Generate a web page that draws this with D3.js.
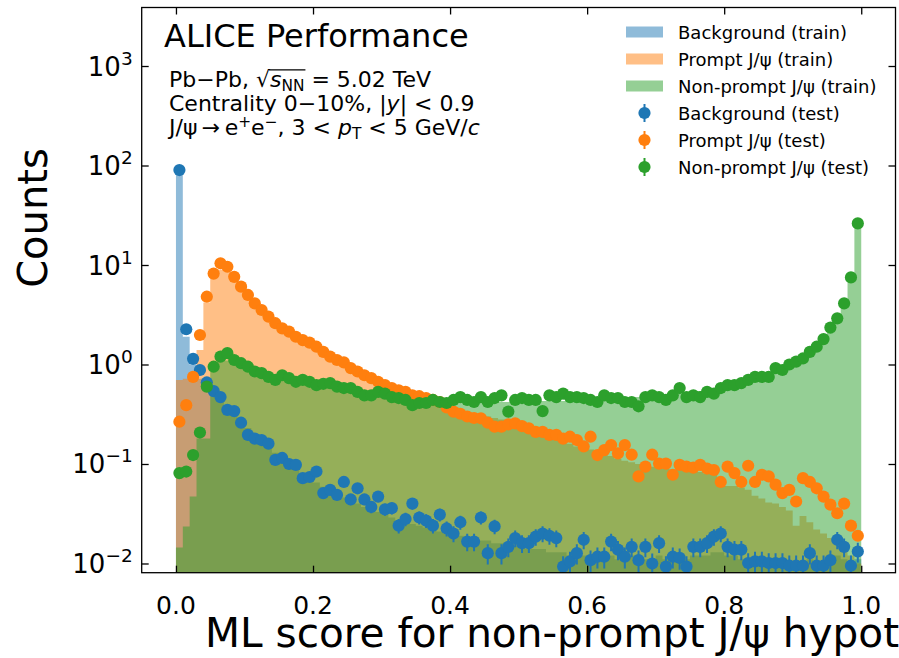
<!DOCTYPE html>
<html>
<head>
<meta charset="utf-8">
<title>ML score for non-prompt J/psi</title>
<script src="https://cdn.jsdelivr.net/npm/d3@7/dist/d3.min.js"></script>
<style>
	body, html { margin: 0; padding: 0; background: #fff; }
	svg text { font-family: "DejaVu Sans", sans-serif; fill: #000; white-space: pre; }
</style>
</head>
<body>
<svg id="Chart" width="899" height="658"></svg>
<script>

	// 100 bins of width 0.01 between 0 and 1
	var nBins = 100, binWidth = 0.01;

	var xTicks = [0, 0.2, 0.4, 0.6, 0.8, 1.0];
	var xTickLabels = ["0.0", "0.2", "0.4", "0.6", "0.8", "1.0"];
	var yTicks = [1e-2, 1e-1, 1e0, 1e1, 1e2, 1e3];
	var yTickExps = ["\u22122", "\u22121", "0", "1", "2", "3"];

	var COLORS = ["#1f77b4", "#ff7f0e", "#2ca02c"];
	var trainLabels = ["Background (train)", "Prompt J/\u03c8 (train)", "Non-prompt J/\u03c8 (train)"];
	var testLabels = ["Background (test)", "Prompt J/\u03c8 (test)", "Non-prompt J/\u03c8 (test)"];

	// training sample, filled histograms
	var bkgTrain = [
		88, 1.9, 1.0, 0.72, 0.6, 0.5, 0.43, 0.37, 0.32, 0.27,
		0.23, 0.2, 0.17, 0.15, 0.13, 0.115, 0.1, 0.09, 0.08, 0.072,
		0.065, 0.059, 0.054, 0.05, 0.046, 0.043, 0.04, 0.037, 0.035, 0.033,
		0.031, 0.029, 0.027, 0.026, 0.025, 0.024, 0.023, 0.022, 0.021, 0.02,
		0.019, 0.019, 0.018, 0.018, 0.017, 0.017, 0.016, 0.016, 0.015, 0.015,
		0.015, 0.014, 0.014, 0.014, 0.013, 0.013, 0.013, 0.012, 0.013, 0.012,
		0.012, 0.012, 0.011, 0.012, 0.011, 0.011, 0.012, 0.011, 0.011, 0.011,
		0.012, 0.011, 0.011, 0.011, 0.011, 0.012, 0.012, 0.012, 0.013, 0.013,
		0.012, 0.012, 0.011, 0.011, 0.011, 0.011, 0.01, 0.011, 0.01, 0.01,
		0.01, 0.01, 0.011, 0.01, 0.01, 0.011, 0.012, 0.011, 0.0095, 0.011
	];
	var promptTrain = [
		0.7, 0.72, 0.78, 1.4, 4.2, 7.4, 8.9, 8.6, 7.2, 5.8,
		4.8, 4.0, 3.4, 2.9, 2.5, 2.2, 2.0, 1.8, 1.65, 1.52,
		1.4, 1.28, 1.17, 1.07, 0.98, 0.9, 0.83, 0.76, 0.7, 0.65,
		0.6, 0.56, 0.52, 0.49, 0.47, 0.45, 0.43, 0.41, 0.39, 0.37,
		0.35, 0.34, 0.33, 0.32, 0.31, 0.3, 0.29, 0.28, 0.27, 0.255,
		0.24, 0.23, 0.22, 0.2, 0.19, 0.175, 0.165, 0.16, 0.15, 0.145,
		0.14, 0.13, 0.125, 0.12, 0.112, 0.108, 0.104, 0.1, 0.096, 0.094,
		0.092, 0.09, 0.088, 0.087, 0.086, 0.085, 0.083, 0.08, 0.078, 0.062,
		0.06, 0.06, 0.058, 0.055, 0.048, 0.045, 0.041, 0.04, 0.037, 0.034,
		0.024, 0.03, 0.026, 0.022, 0.02, 0.018, 0.017, 0.014, 0.012, 0.01
	];
	var nonpromptTrain = [
		0.0145, 0.0236, 0.047, 0.18, 0.18, 0.85, 1.07, 1.1, 1.05, 0.98,
		0.92, 0.87, 0.82, 0.78, 0.75, 0.72, 0.7, 0.68, 0.66, 0.64,
		0.62, 0.6, 0.59, 0.57, 0.56, 0.54, 0.52, 0.51, 0.5, 0.49,
		0.48, 0.47, 0.46, 0.45, 0.44, 0.44, 0.43, 0.43, 0.43, 0.42,
		0.42, 0.42, 0.42, 0.42, 0.42, 0.42, 0.42, 0.42, 0.42, 0.42,
		0.42, 0.43, 0.43, 0.43, 0.43, 0.43, 0.43, 0.44, 0.44, 0.44,
		0.44, 0.44, 0.45, 0.45, 0.45, 0.46, 0.46, 0.47, 0.47, 0.48,
		0.49, 0.5, 0.5, 0.51, 0.52, 0.53, 0.54, 0.55, 0.57, 0.58,
		0.6, 0.62, 0.65, 0.68, 0.71, 0.75, 0.79, 0.84, 0.9, 0.97,
		1.05, 1.15, 1.3, 1.48, 1.75, 2.1, 2.7, 3.8, 7.3, 25
	];

	// test sample, points
	var bkgTest = [
		90, 2.26, 1.14, 0.88, 0.66, 0.54, 0.47, 0.35, 0.34, 0.26,
		0.196, 0.18, 0.174, 0.16, 0.11, 0.115, 0.1, 0.098, 0.072, 0.074,
		0.084, 0.051, 0.055, 0.049, 0.066, 0.044, 0.057, 0.044, 0.037, 0.047,
		0.035, 0.036, 0.024, 0.028, 0.04, 0.029, 0.027, 0.024, 0.031, 0.0225,
		0.02, 0.026, 0.0166, 0.0166, 0.029, 0.0127, 0.0236, 0.0127, 0.0147, 0.018,
		0.016, 0.016, 0.0186, 0.02, 0.019, 0.018, 0.0093, 0.0105, 0.0127, 0.0173,
		0.0108, 0.0117, 0.0117, 0.0166, 0.0138, 0.0117, 0.0147, 0.0108, 0.0147, 0.01,
		0.016, 0.0093, 0.0117, 0.0114, 0.0093, 0.0147, 0.0147, 0.016, 0.0186, 0.02,
		0.0147, 0.0138, 0.0138, 0.0101, 0.0105, 0.0105, 0.0101, 0.0101, 0.0101, 0.0095,
		0.0095, 0.0095, 0.0127, 0.0095, 0.0095, 0.0108, 0.0173, 0.0147, 0.0095, 0.0132
	];
	var promptTest = [
		0.266, 0.39, 0.75, 1.98, 4.8, 8.2, 10.4, 9.6, 7.6, 6.06,
		5.0, 4.12, 3.53, 3.03, 2.6, 2.31, 2.14, 1.9, 1.76, 1.66,
		1.51, 1.34, 1.2, 1.11, 1.05, 0.92, 0.85, 0.78, 0.73, 0.67,
		0.62, 0.58, 0.55, 0.53, 0.49, 0.48, 0.46, 0.44, 0.42, 0.37,
		0.336, 0.32, 0.3, 0.29, 0.288, 0.26, 0.237, 0.237, 0.25, 0.256,
		0.24, 0.228, 0.21, 0.21, 0.196, 0.196, 0.18, 0.188, 0.174, 0.15,
		0.188, 0.123, 0.138, 0.155, 0.128, 0.155, 0.124, 0.075, 0.094, 0.124,
		0.101, 0.101, 0.078, 0.098, 0.094, 0.092, 0.098, 0.09, 0.087, 0.066,
		0.094, 0.081, 0.066, 0.096, 0.066, 0.078, 0.075, 0.062, 0.051, 0.055,
		0.042, 0.072, 0.066, 0.057, 0.047, 0.039, 0.032, 0.04, 0.024, 0.019
	];
	var nonpromptTest = [
		0.081, 0.084, 0.123, 0.207, 0.6, 0.95, 1.2, 1.3, 1.11, 1.03,
		0.95, 0.85, 0.82, 0.75, 0.7, 0.78, 0.73, 0.67, 0.7, 0.67,
		0.62, 0.64, 0.65, 0.6, 0.58, 0.58, 0.53, 0.49, 0.49, 0.53,
		0.51, 0.47, 0.46, 0.44, 0.39, 0.41, 0.41, 0.44, 0.42, 0.41,
		0.44, 0.47, 0.44, 0.42, 0.47, 0.42, 0.46, 0.49, 0.336, 0.44,
		0.46, 0.44, 0.44, 0.34, 0.49, 0.47, 0.51, 0.47, 0.47, 0.46,
		0.44, 0.42, 0.49, 0.46, 0.46, 0.42, 0.42, 0.38, 0.47, 0.49,
		0.47, 0.44, 0.49, 0.58, 0.47, 0.49, 0.47, 0.53, 0.51, 0.58,
		0.62, 0.62, 0.65, 0.7, 0.75, 0.75, 0.75, 0.92, 0.88, 1.0,
		1.07, 1.15, 1.34, 1.51, 1.8, 2.35, 2.91, 4.12, 7.5, 26.2
	];
	// per-series normalisation used for the poisson error bars of the test points
	var testNorm = [1500, 4000, 4000];

	var trainSets = [bkgTrain, promptTrain, nonpromptTrain];
	var testSets = [bkgTest, promptTest, nonpromptTest];

	// plot box (named pX so they don't clash with window.top etc.)
	var pLeft = 141.7, pRight = 895.5, pTop = 7.5, pBottom = 572.7;
	var markerR = 6.1;

	var x = d3.scaleLinear().domain([-0.05, 1.05]).range([pLeft, pRight]);
	var y = d3.scaleLog().domain([0.00808, 3873]).range([pBottom, pTop]);

	var svg = d3.select("#Chart");

	svg.append("defs").append("clipPath").attr("id", "plotClip")
		.append("rect")
		.attr("x", pLeft).attr("y", pTop)
		.attr("width", pRight - pLeft).attr("height", pBottom - pTop);

	var plot = svg.append("g").attr("clip-path", "url(#plotClip)");

	// step filled histograms
	var area = d3.area()
		.curve(d3.curveStepAfter)
		.x(function(d) { return x(d.lo); })
		.y0(pBottom)
		.y1(function(d) { return y(d.v); });

	trainSets.forEach(function(vals, j) {
		var pts = vals.map(function(v, i) { return { lo: i * binWidth, v: v }; });
		pts.push({ lo: nBins * binWidth, v: vals[nBins - 1] });
		plot.append("path")
			.datum(pts)
			.attr("d", area)
			.attr("fill", COLORS[j])
			.attr("fill-opacity", 0.5);
	});

	// test points with error bars
	testSets.forEach(function(vals, j) {
		var g = plot.append("g");
		var pts = vals.map(function(v, i) {
			var err = Math.sqrt(v / testNorm[j]);
			return { c: (i + 0.5) * binWidth, v: v, lo: Math.max(v - err, 1e-4), hi: v + err };
		});
		g.selectAll("line").data(pts).enter().append("line")
			.attr("x1", function(d) { return x(d.c); })
			.attr("x2", function(d) { return x(d.c); })
			.attr("y1", function(d) { return y(d.lo); })
			.attr("y2", function(d) { return y(d.hi); })
			.attr("stroke", COLORS[j])
			.attr("stroke-width", 2);
		g.selectAll("circle").data(pts).enter().append("circle")
			.attr("cx", function(d) { return x(d.c); })
			.attr("cy", function(d) { return y(d.v); })
			.attr("r", markerR)
			.attr("fill", COLORS[j]);
	});

	// frame and inward ticks on all sides
	var tickLen = 7;
	function styleAxis(g) {
		g.select(".domain").remove();
		g.selectAll("line").attr("stroke", "#000").attr("stroke-width", 1.3);
	}
	svg.append("g").attr("transform", "translate(0," + pBottom + ")")
		.call(d3.axisBottom(x).tickValues(xTicks).tickSize(-tickLen).tickFormat(""))
		.call(styleAxis);
	svg.append("g").attr("transform", "translate(0," + pTop + ")")
		.call(d3.axisTop(x).tickValues(xTicks).tickSize(-tickLen).tickFormat(""))
		.call(styleAxis);
	svg.append("g").attr("transform", "translate(" + pLeft + ",0)")
		.call(d3.axisLeft(y).tickValues(yTicks).tickSize(-tickLen).tickFormat(""))
		.call(styleAxis);
	svg.append("g").attr("transform", "translate(" + pRight + ",0)")
		.call(d3.axisRight(y).tickValues(yTicks).tickSize(-tickLen).tickFormat(""))
		.call(styleAxis);

	svg.append("rect")
		.attr("x", pLeft).attr("y", pTop)
		.attr("width", pRight - pLeft).attr("height", pBottom - pTop)
		.attr("fill", "none")
		.attr("stroke", "#000")
		.attr("stroke-width", 1.3);

	// tick labels
	svg.selectAll(".xlab").data(xTicks).enter().append("text")
		.attr("class", "xlab")
		.attr("x", function(d) { return x(d); })
		.attr("y", pBottom + 41)
		.attr("text-anchor", "middle")
		.style("font-size", "25px")
		.text(function(d, i) { return xTickLabels[i]; });

	yTicks.forEach(function(t, i) {
		var txt = svg.append("text")
			.attr("x", pLeft - 9)
			.attr("y", y(t) + 9.5)
			.attr("text-anchor", "end")
			.style("font-size", "26px");
		txt.append("tspan").text("10");
		txt.append("tspan").attr("dy", -11).style("font-size", "18.5px").text(yTickExps[i]);
	});

	// axis titles
	svg.append("text")
		.attr("transform", "translate(47,218) rotate(-90)")
		.attr("text-anchor", "middle")
		.style("font-size", "40px")
		.text("Counts");

	svg.append("text")
		.attr("x", 205)
		.attr("y", 647)
		.style("font-size", "40.6px")
		.text("ML score for non-prompt J/\u03c8 hypothesis");

	// text written as runs so the sub/superscripts line up
	function drawRuns(x0, y0, size, runs) {
		var cx = x0;
		runs.forEach(function(r) {
			var s = r.s ? size * r.s : size;
			var t = svg.append("text")
				.attr("x", cx)
				.attr("y", y0 + (r.dy || 0))
				.style("font-size", s + "px")
				.text(r.t);
			if (r.it) t.style("font-style", "italic");
			r.x0 = cx;
			cx += t.node().getComputedTextLength();
			r.x1 = cx;
		});
		return runs;
	}

	svg.append("text")
		.attr("x", 164)
		.attr("y", 47)
		.style("font-size", "32px")
		.text("ALICE Performance");

	var fs = 22;
	var l1 = drawRuns(169, 87, fs, [
		{ t: "Pb\u2212Pb, " },
		{ t: "\u221a" },
		{ t: "s", it: true },
		{ t: "NN", s: 0.7, dy: 4 },
		{ t: " = 5.02 TeV" }
	]);
	svg.append("line")
		.attr("x1", l1[1].x1 - 1).attr("x2", l1[3].x1 + 1)
		.attr("y1", 87 - fs * 0.78).attr("y2", 87 - fs * 0.78)
		.attr("stroke", "#000").attr("stroke-width", 1.1);

	drawRuns(169, 111, fs, [
		{ t: "Centrality 0\u221210%, |" },
		{ t: "y", it: true },
		{ t: "| < 0.9" }
	]);

	drawRuns(169, 135, fs, [
		{ t: "J/\u03c8\u2009\u2192\u2009e" },
		{ t: "+", s: 0.7, dy: -8 },
		{ t: "e" },
		{ t: "\u2212", s: 0.7, dy: -8 },
		{ t: ", 3 < " },
		{ t: "p", it: true },
		{ t: "T", s: 0.7, dy: 4 },
		{ t: " < 5 GeV/" },
		{ t: "c", it: true }
	]);

	// legend
	var legY = [32, 59, 86, 113, 140, 167];
	var legend = svg.append("g");
	trainLabels.forEach(function(lab, j) {
		legend.append("rect")
			.attr("x", 626).attr("y", legY[j] - 5.5)
			.attr("width", 37).attr("height", 11)
			.attr("fill", COLORS[j]).attr("fill-opacity", 0.5);
		legend.append("text")
			.attr("x", 678).attr("y", legY[j] + 6.5)
			.style("font-size", "18px")
			.text(lab);
	});
	testLabels.forEach(function(lab, j) {
		var cy = legY[j + 3];
		legend.append("line")
			.attr("x1", 644.5).attr("x2", 644.5)
			.attr("y1", cy - 9).attr("y2", cy + 9)
			.attr("stroke", COLORS[j]).attr("stroke-width", 2);
		legend.append("circle")
			.attr("cx", 644.5).attr("cy", cy).attr("r", markerR)
			.attr("fill", COLORS[j]);
		legend.append("text")
			.attr("x", 678).attr("y", cy + 6.5)
			.style("font-size", "18px")
			.text(lab);
	});

</script>
</body>
</html>
